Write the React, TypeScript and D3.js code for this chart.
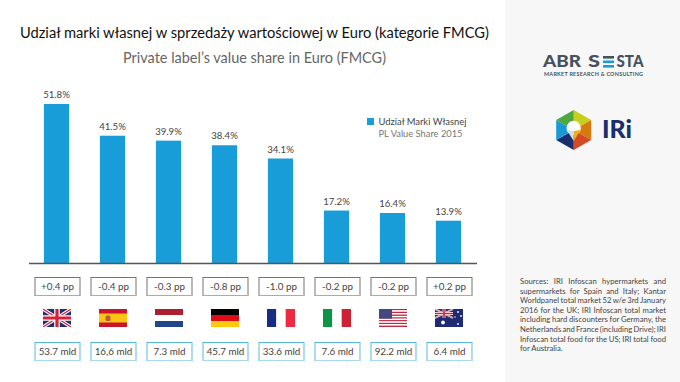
import React from 'react';
import * as d3 from 'd3';

const countries = ['UK', 'ES', 'NL', 'DE', 'FR', 'IT', 'US', 'AU'];
const shareValues = [51.8, 41.5, 39.9, 38.4, 34.1, 17.2, 16.4, 13.9];
const ppChanges = ['+0.4 pp', '-0.4 pp', '-0.3 pp', '-0.8 pp', '-1.0 pp', '-0.2 pp', '-0.2 pp', '+0.2 pp'];
const marketSizes = ['53.7 mld', '16,6 mld', '7.3 mld', '45.7 mld', '33.6 mld', '7.6 mld', '92.2 mld', '6.4 mld'];
const sourceLines = [
  'Sources: IRI Infoscan hypermarkets and',
  'supermarkets for Spain and Italy; Kantar',
  'Worldpanel total market 52 w/e 3rd January',
  '2016 for the UK; IRI Infoscan total market',
  'including hard discounters for Germany, the',
  'Netherlands and France (including Drive); IRI',
  'Infoscan total food for the US; IRI total food',
];
const sourceLast = 'for Australia.';

const FONT = 'Lato, "Open Sans", sans-serif';
const BLUE = '#189dd8';

const x = d3.scalePoint<string>().domain(countries).range([57, 449]);
const y = d3.scaleLinear().domain([0, 51.8]).range([263.5, 104]);

function justify(width: number) {
  return (el: SVGTextElement | null) => {
    if (!el) return;
    el.removeAttribute('word-spacing');
    const n = (el.textContent || '').split(' ').length - 1;
    const w = el.getComputedTextLength();
    if (n > 0) el.setAttribute('word-spacing', String((width - w) / n));
  };
}

function Flag({ code, cx }: { code: string; cx: number }) {
  const W = 28, H = 18;
  const x0 = cx - W / 2, y0 = 309;
  const clip = `flag-${code}`;
  let body: React.ReactNode = null;
  const ukJack = (w: number, h: number, s: number) => (
    <g>
      <rect width={w} height={h} fill="#1f2f6f" />
      <path d={`M0 0L${w} ${h}M${w} 0L0 ${h}`} stroke="#fff" strokeWidth={3.4 * s} />
      <path d={`M0 0L${w} ${h}M${w} 0L0 ${h}`} stroke="#d9203a" strokeWidth={1.2 * s} />
      <path d={`M${w / 2} 0V${h}M0 ${h / 2}H${w}`} stroke="#fff" strokeWidth={5.6 * s} />
      <path d={`M${w / 2} 0V${h}M0 ${h / 2}H${w}`} stroke="#d9203a" strokeWidth={3.2 * s} />
    </g>
  );
  if (code === 'UK') body = ukJack(W, H, 1);
  if (code === 'ES') body = (
    <g>
      <rect width={W} height={H} fill="#c9142b" />
      <rect y={4.5} width={W} height={9} fill="#fdc413" />
      <rect x={6.5} y={6.5} width={5} height={5.5} rx={1.5} fill="#b5622a" />
    </g>
  );
  if (code === 'NL') body = (
    <g>
      <rect width={W} height={6} fill="#ab1f30" />
      <rect y={6} width={W} height={6} fill="#fff" />
      <rect y={12} width={W} height={6} fill="#21468b" />
    </g>
  );
  if (code === 'DE') body = (
    <g>
      <rect width={W} height={6} fill="#000" />
      <rect y={6} width={W} height={6} fill="#dd0c17" />
      <rect y={12} width={W} height={6} fill="#fdc90f" />
    </g>
  );
  if (code === 'FR') body = (
    <g>
      <rect width={W / 3} height={H} fill="#172d84" />
      <rect x={W / 3} width={W / 3} height={H} fill="#fff" />
      <rect x={(2 * W) / 3} width={W / 3} height={H} fill="#ed2a42" />
    </g>
  );
  if (code === 'IT') body = (
    <g>
      <rect width={W / 3} height={H} fill="#0f9347" />
      <rect x={W / 3} width={W / 3} height={H} fill="#fff" />
      <rect x={(2 * W) / 3} width={W / 3} height={H} fill="#cd2136" />
    </g>
  );
  if (code === 'US') {
    const stripes = d3.range(13);
    body = (
      <g>
        {stripes.map(i => (
          <rect key={i} y={(i * H) / 13} width={W} height={H / 13} fill={i % 2 ? '#fff' : '#bb2a43'} />
        ))}
        <rect width={13} height={9.7} fill="#47477f" />
      </g>
    );
  }
  if (code === 'AU') {
    const stars: [number, number, number][] = [[8, 13.5, 1.9], [23, 3, 0.9], [26, 7, 0.9], [23, 15, 0.9], [20, 8, 0.7]];
    body = (
      <g>
        <rect width={W} height={H} fill="#1f2a74" />
        {ukJack(18, 9, 0.5)}
        {stars.map(([cx2, cy2, r], i) => (
          <circle key={i} cx={cx2} cy={cy2} r={r} fill="#fff" />
        ))}
      </g>
    );
  }
  return (
    <g transform={`translate(${x0},${y0})`}>
      <clipPath id={clip}><rect width={W} height={H} /></clipPath>
      <g clipPath={`url(#${clip})`}>{body}</g>
    </g>
  );
}

function Hexagon() {
  const cx = 573.7, cy = 130, rx = 17.5, ry = 20;
  const angles = [-90, -30, 30, 90, 150, 210];
  const pts = angles.map(a => [cx + rx * 1.155 * Math.cos((a * Math.PI) / 180), cy + ry * Math.sin((a * Math.PI) / 180)]);
  const colors = ['#c5d01f', '#d67a0f', '#d34a25', '#1a2f6e', '#189ad6', '#4ea83f'];
  return (
    <g>
      {colors.map((c, i) => {
        const a = pts[i], b = pts[(i + 1) % 6];
        return <path key={c} d={`M${cx} ${cy}L${a[0]} ${a[1]}L${b[0]} ${b[1]}Z`} fill={c} />;
      })}
      <circle cx={cx} cy={cy - 2} r={7.2} fill="#fff" />
      <path d={`M${cx - 7} ${cy}L${cx} ${cy + 11}L${cx} ${cy + 1}Z`} fill="#cfe3ee" />
      <path d={`M${cx + 7} ${cy}L${cx} ${cy + 11}L${cx} ${cy + 1}Z`} fill="#f0b016" />
    </g>
  );
}

function LabelBox({ cx, yTop, text, stroke, bottom }: { cx: number; yTop: number; text: string; stroke: string; bottom: string }) {
  const w = 45, h = 18;
  return (
    <g>
      <rect x={cx - w / 2 + 0.5} y={yTop + 0.5} width={w} height={h} fill="#fff" stroke={stroke} strokeWidth={0.9} />
      <line x1={cx - w / 2} x2={cx + w / 2 + 1} y1={yTop + h + 0.5} y2={yTop + h + 0.5} stroke={bottom} strokeWidth={1} />
      <text x={cx + 0.5} y={yTop + 12.8} textAnchor="middle" fontSize={9.8} fill="#444">{text}</text>
    </g>
  );
}

export default function App() {
  return (
    <svg
      width={680}
      height={382}
      viewBox="0 0 680 382"
      style={{ position: 'fixed', left: 0, top: 0, background: '#fff' }}
      fontFamily={FONT}
    >
      <rect x={505} y={0} width={175} height={382} fill="#f7f7f7" />

      <text x={254.5} y={38} textAnchor="middle" fontSize={15.6} fill="#111" textLength={469} lengthAdjust="spacingAndGlyphs">
        Udział marki własnej w sprzedaży wartościowej w Euro (kategorie FMCG)
      </text>
      <text x={254.5} y={63} textAnchor="middle" fontSize={15.4} fill="#666" textLength={263} lengthAdjust="spacingAndGlyphs">
        Private label’s value share in Euro (FMCG)
      </text>

      {countries.map((c, i) => {
        const cx = x(c)! - 0.5;
        return (
          <g key={c}>
            <rect x={cx - 12.6} y={y(shareValues[i])} width={25.2} height={y(0) - y(shareValues[i])} fill={BLUE} />
            <text x={cx} y={y(shareValues[i]) - 6} textAnchor="middle" fontSize={9.6} fill="#444">
              {shareValues[i].toFixed(1)}%
            </text>
          </g>
        );
      })}
      <line x1={29} x2={477} y1={263.5} y2={263.5} stroke="#555" strokeWidth={1.3} />

      <rect x={367} y={118} width={7} height={7} fill={BLUE} />
      <text x={378.5} y={125} fontSize={9.6} fill="#444" textLength={88} lengthAdjust="spacingAndGlyphs">Udział Marki Własnej</text>
      <text x={378.5} y={136.7} fontSize={9.6} fill="#777" textLength={84} lengthAdjust="spacingAndGlyphs">PL Value Share 2015</text>

      {countries.map((c, i) => (
        <g key={c}>
          <LabelBox cx={x(c)!} yTop={277} text={ppChanges[i]} stroke="#666" bottom="#aaa" />
          <Flag code={c} cx={x(c)!} />
          <LabelBox cx={x(c)!} yTop={342} text={marketSizes[i]} stroke="#45b2e0" bottom="#a5d8ee" />
        </g>
      ))}

      <g fontSize={16} fontWeight={900} fill="#46535e">
        <text x={543} y={67.3} textLength={38} lengthAdjust="spacingAndGlyphs">ABR</text>
        <text x={588} y={67.3} textLength={12} lengthAdjust="spacingAndGlyphs">S</text>
        <text x={616.5} y={67.3} textLength={27} lengthAdjust="spacingAndGlyphs">STA</text>
      </g>
      <rect x={603} y={56} width={11} height={2.6} fill="#46535e" />
      <rect x={603} y={60.5} width={11} height={2.6} fill="#189dd8" />
      <rect x={603} y={65} width={11} height={2.6} fill="#189dd8" />
      <text x={544} y={76} fontSize={5.4} fontWeight={700} fill="#46535e" textLength={99} lengthAdjust="spacing">MARKET RESEARCH &amp; CONSULTING</text>

      <Hexagon />
      <text x={602} y={138} fontSize={25} fontWeight={900} fill="#1a2f6e" textLength={30} lengthAdjust="spacingAndGlyphs">IRi</text>

      {sourceLines.map((line, i) => (
        <text key={i} ref={justify(146)} x={520} y={284 + i * 9.6} fontSize={7.7} fill="#444">{line}</text>
      ))}
      <text x={520} y={284 + sourceLines.length * 9.6} fontSize={7.7} fill="#444">{sourceLast}</text>
    </svg>
  );
}
